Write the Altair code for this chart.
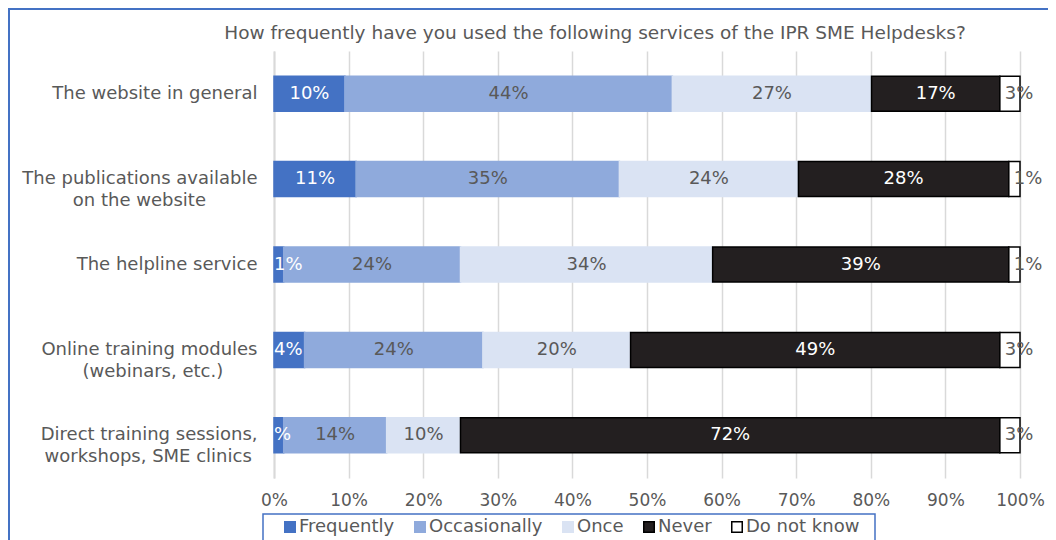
import altair as alt
import pandas as pd

NB = "\u00a0"
ZW = "\u200b"
services = [
    "The website in general",
    "The publications available\non the website" + NB * 9 + ZW,
    "The helpline service",
    "Online training modules\n(webinars, etc.)" + NB * 6 + ZW,
    "Direct training sessions,\nworkshops, SME clinics" + NB * 1 + ZW,
]
categories = ["Frequently", "Occasionally", "Once", "Never", "Do not know"]
fills = ["#4472C4", "#8FAADC", "#DAE3F3", "#231F20", "#FFFFFF"]
strokes = ["#4472C4", "#8FAADC", "#DAE3F3", "#000000", "#000000"]

frequently = [9.5, 11.0, 1.3, 4.1, 1.3]
occasionally = [43.9, 35.3, 23.7, 23.9, 13.8]
once = [26.7, 24.0, 33.8, 19.8, 9.9]
never = [17.2, 28.2, 39.7, 49.5, 72.3]
do_not_know = [2.7, 1.5, 1.5, 2.7, 2.7]

label_frequently = ["10%", "11%", "1%", "4%", "%"]
label_occasionally = ["44%", "35%", "24%", "24%", "14%"]
label_once = ["27%", "24%", "34%", "20%", "10%"]
label_never = ["17%", "28%", "39%", "49%", "72%"]
label_dnk = ["3%", "1%", "1%", "3%", "3%"]

title_text = "How frequently have you used the following services of the IPR SME Helpdesks?"

series = [frequently, occasionally, once, never, do_not_know]
labels = [label_frequently, label_occasionally, label_once, label_never, label_dnk]
rows = []
for ci, cat in enumerate(categories):
    for si, svc in enumerate(services):
        rows.append({"service": svc, "category": cat, "idx": ci,
                     "value": series[ci][si], "label": labels[ci][si]})
df = pd.DataFrame(rows)

FONT = "DejaVu Sans"
GREY = "#595959"

y_enc = alt.Y("service:N", sort=services,
              scale=alt.Scale(paddingInner=0.59, paddingOuter=0.295),
              axis=alt.Axis(title=None, ticks=False, tickSize=0, labelFontSize=18,
                            labelFont=FONT, labelColor=GREY, labelPadding=17,
                            labelExpr="split(datum.label, '\\n')", labelLineHeight=22,
                            labelLimit=400, domainColor="#D9D9D9", domainWidth=2,
                            grid=False))
x_axis = alt.Axis(values=list(range(0, 101, 10)), labelExpr="datum.value + '%'",
                  title=None, ticks=False, tickSize=0, domain=False, labelFontSize=17,
                  labelFont=FONT, labelColor=GREY, labelPadding=14, labelFlush=False,
                  grid=True, gridColor="#D9D9D9", gridWidth=1.5)
x_scale = alt.Scale(domain=[0, 100], nice=False)

legend = alt.Legend(orient="none", legendX=7, legendY=467, direction="horizontal",
                    title=None, labelFontSize=18, labelColor=GREY, labelFont=FONT,
                    symbolType="square", symbolSize=110, symbolStrokeWidth=1.5,
                    labelOffset=0, columnPadding=16, padding=0, columns=5)

base = alt.Chart(df).transform_stack(
    stack="value", groupby=["service"], sort=[alt.SortField("idx", order="ascending")],
    as_=["x0", "x1"]
).transform_calculate(mid="(datum.x0 + datum.x1) / 2")

bars = base.mark_bar(strokeWidth=1.5).encode(
    y=y_enc,
    x=alt.X("x0:Q", scale=x_scale, axis=x_axis),
    x2="x1:Q",
    fill=alt.Fill("category:N", scale=alt.Scale(domain=categories, range=fills), legend=legend),
    stroke=alt.Stroke("category:N", scale=alt.Scale(domain=categories, range=strokes), legend=legend),
)

txt_color = alt.condition("datum.idx == 0 || datum.idx == 3", alt.value("white"), alt.value(GREY))

text_mid = base.transform_filter(
    "(datum.idx >= 1 && datum.idx <= 3) || (datum.idx == 0 && datum.value >= 5)"
).mark_text(fontSize=18, font=FONT).encode(
    y=y_enc, x=alt.X("mid:Q", scale=x_scale, axis=x_axis), text="label:N", color=txt_color)

text_small = base.transform_filter("datum.idx == 0 && datum.value < 5").mark_text(
    fontSize=18, font=FONT, align="left").encode(
    y=y_enc, x=alt.X("x0:Q", scale=x_scale, axis=x_axis), text="label:N", color=txt_color)

text_dnk = base.transform_filter("datum.idx == 4").mark_text(
    fontSize=18, font=FONT, align="left", dx=5).encode(
    y=y_enc, x=alt.X("x0:Q", scale=x_scale, axis=x_axis), text="label:N", color=alt.value(GREY))

one = pd.DataFrame({"a": [0]})
border = alt.Chart(one).mark_rect(fill="white", fillOpacity=0, stroke="#4472C4", strokeWidth=2).encode(
    x=alt.value(-265), x2=alt.value(900), y=alt.value(-42), y2=alt.value(700))
legend_box = alt.Chart(one).mark_rect(fill="white", fillOpacity=0, stroke="#4472C4", strokeWidth=1.5).encode(
    x=alt.value(-11), x2=alt.value(601), y=alt.value(463), y2=alt.value(700))

chart = alt.layer(border, legend_box, bars, text_mid, text_small, text_dnk).properties(
    width=746, height=427,
    padding={"left": 266, "top": 43, "right": 28, "bottom": 62},
    autosize=alt.AutoSizeParams(type="none"),
    title=alt.TitleParams(title_text, fontSize=18.5, font=FONT, color=GREY, fontWeight="normal",
                          anchor="middle", dx=-52, offset=9, dy=43),
).configure_view(strokeWidth=0)

chart.save("out.html", embed_options={"renderer": "svg", "actions": False})
